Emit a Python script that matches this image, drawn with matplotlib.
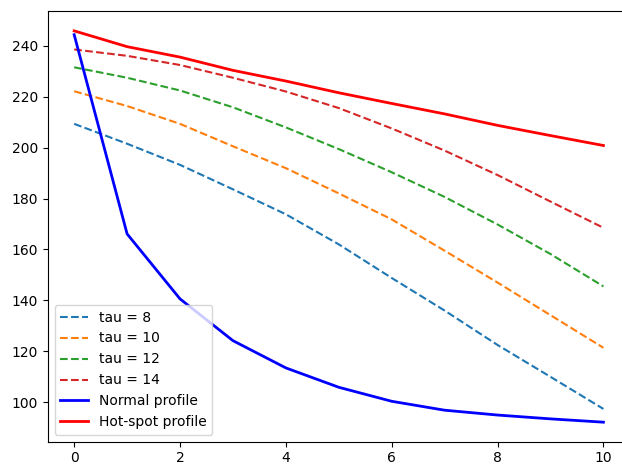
import matplotlib

matplotlib.use("Agg")
import matplotlib.pyplot as plt
import numpy as np

# distance index
x = np.arange(0, 11)

# dashed model curves for several tau values
tau_values = [8, 10, 12, 14]
tau_8 = [209.3, 201.5, 193.2, 183.6, 173.8, 162.0, 148.8, 136.0, 122.5, 110.0, 97.4]
tau_10 = [222.1, 216.3, 209.3, 200.5, 191.9, 182.0, 171.8, 159.5, 147.0, 134.2, 121.4]
tau_12 = [231.5, 227.4, 222.4, 215.8, 207.9, 199.4, 190.3, 180.6, 169.8, 158.2, 145.5]
tau_14 = [238.5, 236.0, 232.4, 227.4, 222.0, 215.5, 207.5, 198.8, 189.2, 178.8, 168.5]
tau_curves = [tau_8, tau_10, tau_12, tau_14]

# measured profiles
normal_profile = [244.3, 166.1, 140.6, 124.2, 113.5, 105.9, 100.4, 96.9, 95.0, 93.5, 92.2]
hotspot_profile = [245.8, 239.6, 235.5, 230.3, 226.1, 221.5, 217.3, 213.2, 208.7, 204.7, 200.8]


def main():
    fig = plt.figure(figsize=(6.22, 4.65), dpi=100)
    # axes run slightly past the right edge (reference image is cropped)
    ax = fig.add_axes([0.0767, 0.050, 0.936, 0.9257])

    for tau, vals in zip(tau_values, tau_curves):
        ax.plot(x, vals, linestyle="--", linewidth=1.5, label=f"tau = {tau}")

    ax.plot(x, normal_profile, color="blue", linewidth=2, label="Normal profile")
    ax.plot(x, hotspot_profile, color="red", linewidth=2, label="Hot-spot profile")

    ax.set_xticks([0, 2, 4, 6, 8, 10])
    ax.set_yticks([100, 120, 140, 160, 180, 200, 220, 240])
    ax.tick_params(labelsize=10)
    ax.legend(loc="lower left", fontsize=10)

    fig.savefig("out.png", dpi=100)
    plt.close(fig)


if __name__ == "__main__":
    main()
